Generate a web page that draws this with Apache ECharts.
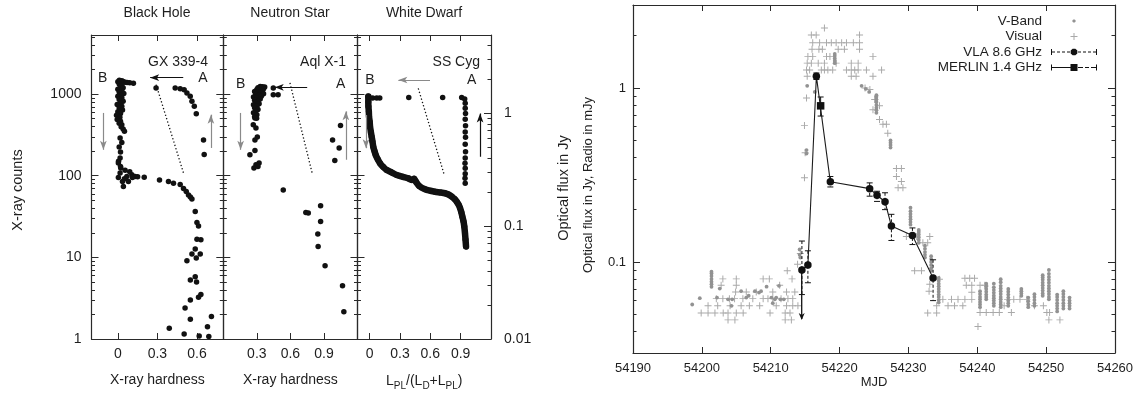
<!DOCTYPE html>
<html><head><meta charset="utf-8">
<script src="https://cdn.jsdelivr.net/npm/echarts@6/dist/echarts.min.js"></script>
<style>html,body{margin:0;padding:0;background:#fff}#c{width:1148px;height:396px}</style>
</head><body><div id="c"></div>
<script>
// ---------------- DATA ----------------
// Left figure: hardness–intensity diagrams
const panelTitles = ['Black Hole', 'Neutron Star', 'White Dwarf'];
const sourceNames = ['GX 339-4', 'Aql X-1', 'SS Cyg'];
const bhTicks = [0, 0.3, 0.6];
const nsTicks = [0.3, 0.6, 0.9];
const wdTicks = [0, 0.3, 0.6, 0.9];

// GX 339-4: [hardness, X-ray counts]
const gx339 = [
 [0.29,1190],[0.435,1190],[0.473,1160],[0.503,1135],[0.524,1035],[0.549,940],[0.562,816],[0.58,708],[0.595,576],[0.65,275],[0.655,182],
 [0.118,1355],[0.09,1380],[0.055,1400],[0.03,1460],[0.011,1477],[0.0,1420],[0.04,1430],[0.02,1440],[0.07,1390],
 [0.01,1330],[0.03,1300],[0.02,1250],[0.04,1200],[0.0,1150],[0.03,1100],[0.01,1060],[0.045,1020],[0.02,980],[0.0,940],[0.03,900],[0.01,860],[0.04,820],[0.02,780],[-0.005,745],[0.03,710],[0.01,675],[0.035,640],[0.0,610],[0.02,580],[-0.01,550],[0.015,520],[-0.005,490],[0.02,465],[0.01,440],[0.03,420],[0.025,398],[0.04,375],[0.05,350],
 [0.017,290],[0.03,255],[0.01,225],[0.02,195],[0.017,165],[0.005,150],
 [0.004,143],[0.022,124],[0.017,108],[0.055,117],[0.068,98],[0.106,103],[0.13,98],[0.08,85],[0.042,74],[0.035,85],[0.004,95],[0.09,112],[0.02,130],[0.05,92],[0.11,95],[0.15,97],
 [0.20,96],[0.316,89],[0.384,85],[0.422,81],[0.473,78],[0.498,70],[0.519,64],[0.536,58],[0.55,55],[0.562,52],
 [0.587,36.5],[0.60,26.7],[0.612,24.3],[0.60,16.7],[0.63,16.4],[0.587,12.7],[0.562,11],[0.625,11],[0.595,9.8],[0.524,9.1],[0.587,5.8],[0.55,5.3],[0.597,5.0],[0.63,3.5],[0.612,3.25],[0.55,3.0],[0.51,2.4],[0.55,1.75],[0.71,1.88],[0.39,1.35],[0.503,1.15],[0.617,1.09],[0.68,1.41],[0.69,1.07]
];
// Aql X-1: [hardness, X-ray counts]
const aqlX1 = [
 [0.33,1240],[0.35,1230],[0.37,1220],[0.31,1200],[0.34,1180],[0.36,1160],[0.30,1140],[0.32,1120],[0.35,1100],[0.28,1080],[0.31,1060],[0.33,1030],[0.36,1010],[0.29,990],[0.32,970],[0.34,940],[0.27,920],[0.30,900],[0.33,870],[0.28,840],[0.31,820],[0.29,790],[0.32,760],[0.27,740],[0.30,710],[0.28,680],[0.31,650],[0.29,620],[0.27,590],[0.30,560],[0.28,530],
 [0.447,1190],[0.447,985],[0.49,985],
 [0.283,510],[0.298,505],[0.268,422],[0.292,385],[0.304,298],[0.283,274],[0.283,204],[0.238,181],[0.32,143],[0.292,136],[0.274,124],[0.31,130],
 [1.048,414],[0.977,275],[1.036,219],[0.997,154],
 [0.536,67],[0.738,35.5],[0.76,35],[0.87,43],[0.87,27.5],[0.845,19.3],[0.848,13.6],[0.91,7.9],[1.066,4.5],[1.078,2.16]
];
// SS Cyg: [L_PL/(L_D+L_PL), flux (right axis)]
const ssCygPoints = [
 [-0.013,1.39],[0.03,1.36],[0.07,1.36],[0.10,1.36],[0.387,1.37],[0.722,1.37],[0.91,1.37],
 [0.94,1.33],[0.945,1.22],[0.945,1.10],[0.948,0.99],[0.945,0.88],[0.948,0.77],[0.945,0.68],[0.948,0.61],[0.945,0.53],[0.948,0.455],[0.945,0.40],[0.943,0.36],[0.945,0.324],[0.945,0.29],[0.943,0.264],[0.945,0.239]
];
const ssCygTrack = [
 [-0.013,1.40],[-0.013,1.25],[-0.012,1.14],[-0.008,1.03],[-0.006,0.93],[0.0,0.84],[0.004,0.757],[0.012,0.68],[0.02,0.617],[0.028,0.56],[0.036,0.503],[0.048,0.46],[0.06,0.425],[0.08,0.39],[0.103,0.359],[0.135,0.333],[0.169,0.313],[0.22,0.297],[0.268,0.283],[0.33,0.272],[0.382,0.264],[0.42,0.255],[0.44,0.262],[0.46,0.245],[0.49,0.226],[0.548,0.211],[0.60,0.205],[0.647,0.201],[0.70,0.198],[0.745,0.195],[0.78,0.19],[0.812,0.182],[0.84,0.173],[0.861,0.164],[0.88,0.154],[0.894,0.144],[0.907,0.132],[0.917,0.121],[0.928,0.11],[0.936,0.099],[0.943,0.086],[0.948,0.076],[0.953,0.066]
];
// annotation lines (data coordinates)
const bhArrowH = [[0.496,1590],[0.245,1590]];
const bhArrowDown = [[-0.11,588],[-0.11,208]];
const bhArrowUp = [[0.706,219],[0.706,560]];
const bhDotted = [[0.29,1308],[0.498,108]];
const nsArrowH = [[0.75,1212],[0.46,1212]];
const nsArrowDown = [[0.155,588],[0.155,208]];
const nsArrowUp = [[1.096,157],[1.096,615]];
const nsDotted = [[0.596,1372],[0.798,103]];
const wdArrowH = [[0.597,1.96],[0.284,1.96]];
const wdArrowDown = [[-0.036,0.96],[-0.036,0.488]];
const wdArrowUp = [[1.092,0.41],[1.092,0.99]];
const wdDotted = [[0.481,1.65],[0.738,0.283]];

// Right figure: light curve
const mjdTicks = [54190, 54260];
const vband = [
 [54198.6,0.057],[54199.7,0.062],[54201.4,0.072],[54201.4,0.0745],[54201.4,0.077],[54201.4,0.08],[54201.4,0.083],[54201.4,0.086],[54201.4,0.088],
 [54202.6,0.0704],[54202.2,0.0625],[54203.8,0.061],[54204.3,0.056],[54204.4,0.061],[54205.7,0.068],[54206.45,0.0625],[54206.8,0.064],[54207.7,0.068],[54208.3,0.0667],[54208.6,0.068],[54209.4,0.0722],[54210.1,0.0625],[54210.6,0.061],[54210.8,0.0625],[54211.2,0.073],[54210.3,0.058],[54211.4,0.061],[54211.9,0.061],
 [54214.2,0.118],[54214.2,0.11],[54214.3,0.106],[54215.2,0.44],[54215.2,0.42],[54215.3,1.03],[54216.4,0.95],
 [54219.3,1.39],[54219.3,1.43],[54219.3,1.48],[54219.3,1.53],[54219.3,1.57],
 [54223.2,1.03],[54223.8,0.99],[54224.3,0.95],
 [54225.35,0.72],[54225.35,0.745],[54225.35,0.77],[54225.35,0.80],[54225.35,0.83],[54225.35,0.86],[54225.35,0.89],[54225.35,0.91],
 [54227.4,0.455],[54227.4,0.47],[54227.4,0.485],[54227.4,0.50],
 [54230.3,0.164],[54230.3,0.17],[54230.3,0.176],[54230.3,0.182],[54230.3,0.189],[54230.3,0.196],[54230.3,0.205],
 [54231.5,0.129],[54231.5,0.134],[54231.5,0.139],[54231.5,0.144],[54231.5,0.149],[54231.5,0.153],
 [54232.4,0.106],[54232.4,0.11],[54232.4,0.114],[54232.4,0.119],[54232.4,0.124],
 [54233.3,0.089],[54233.3,0.092],[54233.3,0.096],[54233.3,0.1],[54233.3,0.104],[54233.3,0.108],
 [54234.4,0.0585],[54234.4,0.0605],[54234.4,0.063],[54234.4,0.065],[54234.4,0.0675],[54234.4,0.07],[54234.4,0.0725],[54234.4,0.075],[54234.4,0.078],[54234.4,0.081],
 [54240.4,0.055],[54240.4,0.057],[54240.4,0.059],[54240.4,0.061],[54240.4,0.063],[54240.4,0.0655],[54240.4,0.068],
 [54241.3,0.061],[54241.3,0.063],[54241.3,0.065],[54241.3,0.0675],[54241.3,0.07],[54241.3,0.0725],[54241.3,0.075],
 [54242.4,0.056],[54242.4,0.058],[54242.4,0.06],[54242.4,0.062],[54242.4,0.064],[54242.4,0.0665],[54242.4,0.069],[54242.4,0.0715],[54242.4,0.075],
 [54243.4,0.055],[54243.4,0.057],[54243.4,0.059],[54243.4,0.061],[54243.4,0.063],[54243.4,0.0655],[54243.4,0.068],[54243.4,0.0705],[54243.4,0.073],[54243.4,0.0765],[54243.4,0.0796],
 [54244.5,0.056],[54244.5,0.058],[54244.5,0.06],[54244.5,0.0625],[54244.5,0.065],[54244.5,0.0675],[54244.5,0.07],
 [54246.4,0.064],[54246.4,0.066],[54246.4,0.068],[54246.4,0.07],
 [54247.4,0.055],[54247.4,0.057],[54247.4,0.0595],[54247.4,0.0625],
 [54248.3,0.056],[54248.3,0.058],[54248.3,0.0605],[54248.3,0.063],[54248.3,0.0653],
 [54249.5,0.064],[54249.5,0.066],[54249.5,0.0685],[54249.5,0.071],[54249.5,0.0735],[54249.5,0.076],[54249.5,0.079],[54249.5,0.0815],[54249.5,0.084],
 [54250.4,0.061],[54250.4,0.063],[54250.4,0.0655],[54250.4,0.068],[54250.4,0.0705],[54250.4,0.073],[54250.4,0.076],[54250.4,0.079],[54250.4,0.082],[54250.4,0.0855],[54250.4,0.09],
 [54251.6,0.052],[54251.6,0.054],[54251.6,0.056],[54251.6,0.058],[54251.6,0.0605],[54251.6,0.063],[54251.6,0.065],
 [54252.5,0.054],[54252.5,0.056],[54252.5,0.058],[54252.5,0.0605],[54252.5,0.063],[54252.5,0.0655],[54252.5,0.068],
 [54253.4,0.054],[54253.4,0.056],[54253.4,0.058],[54253.4,0.06],[54253.4,0.0625]
];
const visual = [
 [54199.9,0.051],[54200.9,0.051],[54201.9,0.051],[54203.1,0.051],[54203.8,0.051],[54205.0,0.051],[54206.0,0.051],[54209.9,0.051],[54212.1,0.051],[54212.8,0.051],
 [54203.8,0.0465],[54204.8,0.0465],[54212.1,0.0465],[54213.0,0.0465],
 [54200.9,0.056],[54202.3,0.056],[54204.1,0.056],[54205.7,0.056],[54206.9,0.056],[54208.4,0.056],[54210.8,0.056],[54212.3,0.056],[54213.2,0.056],[54213.95,0.056],
 [54202.1,0.0616],[54203.05,0.0616],[54204.0,0.0616],[54204.75,0.0616],[54205.96,0.0616],[54207.4,0.0616],[54208.9,0.0616],[54209.6,0.0616],[54210.3,0.0616],[54211.5,0.0616],[54212.5,0.0616],[54213.2,0.0616],
 [54204.9,0.0673],[54206.45,0.0673],[54207.9,0.0673],[54210.3,0.0673],[54212.3,0.0673],[54213.5,0.0673],
 [54202.8,0.0735],[54205.0,0.0735],[54211.3,0.0735],
 [54203.05,0.080],[54205.0,0.080],[54208.9,0.080],[54209.8,0.080],[54213.1,0.080],
 [54212.4,0.089],[54213.9,0.097],[54214.3,0.112],
 [54214.9,0.305],[54215.0,0.424],[54214.9,0.608],[54215.2,0.877],
 [54217.8,2.21],
 [54215.9,2.02],[54216.6,2.02],[54222.9,2.02],
 [54216.1,1.82],[54217.1,1.82],[54218.1,1.82],[54218.8,1.82],[54219.5,1.82],[54220.3,1.82],[54221.0,1.82],[54222.0,1.82],[54222.9,1.82],
 [54216.0,1.67],[54217.0,1.67],[54217.5,1.67],[54219.8,1.67],[54220.7,1.67],[54222.9,1.67],
 [54215.4,1.52],[54216.1,1.52],[54218.1,1.52],[54218.6,1.52],[54224.85,1.52],
 [54215.3,1.39],[54215.9,1.39],[54216.9,1.39],[54217.8,1.39],[54219.5,1.39],[54221.7,1.39],[54222.7,1.39],
 [54215.2,1.27],[54215.65,1.27],[54217.35,1.27],[54217.8,1.27],[54218.3,1.27],[54219.0,1.27],[54221.0,1.27],[54221.7,1.27],[54222.2,1.27],[54222.7,1.27],[54223.9,1.27],[54226.1,1.27],
 [54215.3,1.17],[54221.7,1.17],[54222.4,1.17],[54224.85,1.17],
 [54223.7,1.0],[54224.4,0.98],[54225.1,0.86],[54224.85,0.75],[54225.8,0.79],[54225.8,0.66],[54226.3,0.62],[54226.8,0.62],[54227.0,0.55],
 [54228.26,0.345],[54228.98,0.345],[54228.26,0.31],[54228.98,0.29],[54228.5,0.267],[54229.2,0.267],
 [54229.7,0.14],[54231.2,0.14],[54233.1,0.14],[54232.1,0.129],[54232.8,0.129],[54230.9,0.089],[54231.9,0.089],[54233.1,0.0745],[54233.0,0.068],[54234.1,0.056],[54232.8,0.051],[54234.1,0.051],
 [54234.5,0.0796],[54235.0,0.061],[54236.25,0.061],[54237.2,0.061],[54238.2,0.061],[54239.2,0.061],[54235.75,0.056],[54236.7,0.056],[54237.9,0.056],
 [54238.2,0.0806],[54238.9,0.0806],[54239.6,0.0806],[54238.4,0.0735],[54239.2,0.0735],[54239.2,0.067],[54240.1,0.0426],
 [54240.4,0.0512],[54241.3,0.0512],[54242.3,0.0512],[54243.2,0.0512],[54240.4,0.0735],[54241.1,0.0735],
 [54243.9,0.056],[54244.4,0.061],[54245.3,0.061],[54244.95,0.0512],[54246.2,0.061],[54247.2,0.061],[54248.3,0.056],[54249.6,0.056],[54250.1,0.0512],[54250.5,0.0512],[54250.4,0.0465],[54252.0,0.0465]
];
const vlaMJD  = [54214.53, 54215.40, 54216.63, 54218.66, 54224.37, 54225.44, 54226.60, 54227.53, 54230.58, 54233.58];
const vlaFlux = [0.090, 0.096, 1.17, 0.289, 0.264, 0.242, 0.222, 0.161, 0.142, 0.081];
const vlaLo   = [0.065, 0.076, 1.12, 0.270, 0.239, 0.223, 0.200, 0.133, 0.126, 0.060];
const vlaHi   = [0.132, 0.116, 1.22, 0.310, 0.285, 0.255, 0.250, 0.188, 0.157, 0.103];
const merlinMJD  = [54217.25];
const merlinFlux = [0.79];
const merlinLo   = [0.69];
const merlinHi   = [0.888];
const limitMJD  = [54214.50];
const limitFrom = [0.090];
const limitTo   = [0.047];

// ---------------- STYLE / LAYOUT ----------------
const FONT = "'Liberation Sans', Arial, Helvetica, sans-serif";
const AX = '#2a2a2a', TXT = '#1e1e1e', DOT = '#111111', GRAYA = '#8a8a8a';
const CNT = [1, 5300], WDR = [0.01, 4.9], FLX = [0.03, 3.0];

function decadeFmt(v){ const e = Math.log10(v), r = Math.round(e); if (Math.abs(e - r) > 1e-6) return ''; return String(Number(Math.pow(10, r).toPrecision(1))); }
function minorVals(r){ const out=[]; for(let e=Math.floor(Math.log10(r[0])); e<=Math.ceil(Math.log10(r[1])); e++){ for(let m=2;m<=9;m++){ const v=m*Math.pow(10,e); if(v>r[0]&&v<r[1]) out.push(Math.log10(v)); } } return out; }

const grid = [
 {left:91.5, top:35, width:131.8, height:304},
 {left:223.3, top:35, width:134.2, height:304},
 {left:357.5, top:35, width:133.5, height:304},
 {left:633, top:5, width:482, height:348}
].map(g => Object.assign({containLabel:false, outerBoundsMode:'none'}, g));

const xAxis = [], yAxis = [], series = [];
const lineS = {color:AX, width:1.2};
function addX(o){ xAxis.push(o); return xAxis.length-1; }
function addY(o){ yAxis.push(o); return yAxis.length-1; }
function xVal(gi, pos, rng, ticks, labels, extra){
  return addX(Object.assign({type:'value', gridIndex:gi, position:pos, min:rng[0], max:rng[1],
    axisLine:{show:true, onZero:false, lineStyle:lineS},
    axisTick:{show:true, inside:true, length:6, customValues:ticks, lineStyle:{color:AX, width:1}},
    axisLabel:{show:labels, customValues:ticks, margin:8, color:TXT, fontSize:14, fontFamily:FONT, formatter:v=>String(v)},
    splitLine:{show:false}, nameMoveOverlap:false}, extra||{}));
}
function yLog(gi, pos, rng, labels, extra){
  return addY(Object.assign({type:'log', logBase:10, gridIndex:gi, position:pos, min:rng[0], max:rng[1],
    axisLine:{show:true, onZero:false, lineStyle:lineS},
    axisTick:{show:true, inside:true, length:7, lineStyle:{color:AX, width:1}},
    axisLabel:{show:labels, margin:10, color:TXT, fontSize:14, fontFamily:FONT, formatter:decadeFmt, showMaxLabel:false},
    splitLine:{show:false}, minorTick:{show:false}, nameMoveOverlap:false}, extra||{}));
}
function yMinor(gi, pos, rng, extra){
  return addY(Object.assign({type:'value', gridIndex:gi, position:pos, min:Math.log10(rng[0]), max:Math.log10(rng[1]),
    axisLine:{show:false, onZero:false}, axisLabel:{show:false}, splitLine:{show:false},
    axisTick:{show:true, inside:true, length:3.5, customValues:minorVals(rng), lineStyle:{color:AX, width:1}},
    nameMoveOverlap:false}, extra||{}));
}
const nameStyle = {color:TXT, fontSize:14, fontFamily:FONT};

function annot(items){
  return {silent:true, animation:false, label:{show:false}, emphasis:{disabled:true},
    data: items.map(it => [
      {coord:it.pts[0], symbol:'none', lineStyle:it.style},
      {coord:it.pts[1], symbol:it.arrow?'arrow':'none', symbolSize:it.arrow?[5,9]:1, lineStyle:it.style}
    ])};
}
const sBlack = {color:'#111', width:1.2, type:'solid'};
const sGray = {color:GRAYA, width:1.2, type:'solid'};
const sDot = {color:'#111', width:1.3, type:[1.3,2.2]};
const dotStyle = {color:DOT, opacity:1};

// Panel 0 : Black Hole
const x0 = xVal(0,'bottom',[-0.2,0.8],bhTicks,true,{name:'X-ray hardness', nameLocation:'middle', nameGap:34, nameTextStyle:nameStyle});
xVal(0,'top',[-0.2,0.8],bhTicks,false);
const y0 = yLog(0,'left',CNT,true,{name:'X-ray counts', nameLocation:'middle', nameGap:66, nameRotate:90, nameTextStyle:Object.assign({},nameStyle,{fontSize:14.5, padding:[0,6,0,0]})});
yMinor(0,'left',CNT); yLog(0,'right',CNT,false); yMinor(0,'right',CNT);
series.push({type:'scatter', xAxisIndex:x0, yAxisIndex:y0, data:gx339, symbolSize:5.5, itemStyle:dotStyle, z:3,
  markLine: annot([{pts:bhArrowH, arrow:true, style:sBlack},{pts:bhArrowDown, arrow:true, style:sGray},{pts:bhArrowUp, arrow:true, style:sGray},{pts:bhDotted, arrow:false, style:sDot}])});

// Panel 1 : Neutron Star
const x1 = xVal(1,'bottom',[0,1.2],nsTicks,true,{name:'X-ray hardness', nameLocation:'middle', nameGap:34, nameTextStyle:nameStyle});
xVal(1,'top',[0,1.2],nsTicks,false);
const y1 = yLog(1,'left',CNT,false);
yMinor(1,'left',CNT); yLog(1,'right',CNT,false); yMinor(1,'right',CNT);
series.push({type:'scatter', xAxisIndex:x1, yAxisIndex:y1, data:aqlX1, symbolSize:5.5, itemStyle:dotStyle, z:3,
  markLine: annot([{pts:nsArrowH, arrow:true, style:sBlack},{pts:nsArrowDown, arrow:true, style:sGray},{pts:nsArrowUp, arrow:true, style:sGray},{pts:nsDotted, arrow:false, style:sDot}])});

// Panel 2 : White Dwarf
const x2 = xVal(2,'bottom',[-0.12,1.2],wdTicks,true,{name:'{m|L}{s|PL}{m|/(L}{s|D}{m|+L}{s|PL}{m|)}', nameLocation:'middle', nameGap:32,
  nameTextStyle:{color:TXT, fontFamily:FONT, rich:{m:{fontSize:14, fontFamily:FONT, color:TXT, lineHeight:20, verticalAlign:'middle'}, s:{fontSize:10, fontFamily:FONT, color:TXT, lineHeight:10, verticalAlign:'bottom'}}}});
xVal(2,'top',[-0.12,1.2],wdTicks,false);
yLog(2,'left',CNT,false); yMinor(2,'left',CNT);
const y2 = yLog(2,'right',WDR,true,{axisLabel:{show:true, margin:13, color:TXT, fontSize:14, fontFamily:FONT, formatter:decadeFmt, showMaxLabel:false}});
yMinor(2,'right',WDR);
series.push({type:'line', xAxisIndex:x2, yAxisIndex:y2, data:ssCygTrack, symbol:'none', smooth:0.2, lineStyle:{color:DOT, width:6.5, cap:'round', join:'round'}, z:2});
series.push({type:'scatter', xAxisIndex:x2, yAxisIndex:y2, data:ssCygTrack, symbolSize:6, itemStyle:dotStyle, z:3});
series.push({type:'scatter', xAxisIndex:x2, yAxisIndex:y2, data:ssCygPoints, symbolSize:5.5, itemStyle:dotStyle, z:3,
  markLine: annot([{pts:wdArrowH, arrow:true, style:sGray},{pts:wdArrowDown, arrow:true, style:sGray},{pts:wdArrowUp, arrow:true, style:sBlack},{pts:wdDotted, arrow:false, style:sDot}])});

// Panel 3 : light curve
const lab13 = {color:TXT, fontSize:13, fontFamily:FONT};
const x3 = addX({type:'value', gridIndex:3, position:'bottom', min:mjdTicks[0], max:mjdTicks[1], interval:10,
  axisLine:{show:true, onZero:false, lineStyle:lineS}, axisTick:{show:true, inside:true, length:6, lineStyle:{color:AX}},
  axisLabel:Object.assign({margin:9, formatter:v=>String(v)}, lab13), splitLine:{show:false},
  name:'MJD', nameLocation:'middle', nameGap:23, nameTextStyle:lab13, nameMoveOverlap:false});
addX({type:'value', gridIndex:3, position:'top', min:mjdTicks[0], max:mjdTicks[1], interval:10,
  axisLine:{show:true, onZero:false, lineStyle:lineS}, axisTick:{show:true, inside:true, length:6, lineStyle:{color:AX}},
  axisLabel:{show:false}, splitLine:{show:false}});
const y3 = yLog(3,'left',FLX,true,{axisLabel:Object.assign({show:true, margin:7, formatter:decadeFmt, showMaxLabel:false, showMinLabel:false}, lab13),
  name:'Optical flux in Jy, Radio in mJy', nameLocation:'middle', nameGap:38, nameRotate:90, nameTextStyle:Object.assign({}, lab13, {padding:[0,12,0,0]})});
yMinor(3,'left',FLX,{name:'Optical flux in Jy', nameLocation:'middle', nameGap:62, nameRotate:90, nameTextStyle:Object.assign({},nameStyle,{fontSize:14.5, padding:[0,18,0,0]})});
yLog(3,'right',FLX,false); yMinor(3,'right',FLX);

const plusSym = 'path://M4.3,0 L5.7,0 L5.7,4.3 L10,4.3 L10,5.7 L5.7,5.7 L5.7,10 L4.3,10 L4.3,5.7 L0,5.7 L0,4.3 L4.3,4.3 Z';
series.push({name:'Visual', type:'scatter', xAxisIndex:x3, yAxisIndex:y3, data:visual, symbol:plusSym, symbolSize:7, itemStyle:{color:'#a9a9a9', opacity:1}, z:1});
series.push({name:'V-Band', type:'scatter', xAxisIndex:x3, yAxisIndex:y3, data:vband, symbol:'circle', symbolSize:3.8, itemStyle:{color:'#929292', opacity:1}, z:1});

function errRender(dash){
  return function(params, api){
    const x = api.value(0), lo = api.value(1), hi = api.value(2);
    const a = api.coord([x, hi]), b = api.coord([x, lo]); const w = 3;
    const st = {stroke:'#111', lineWidth:1};
    return {type:'group', children:[
      {type:'line', shape:{x1:a[0], y1:a[1], x2:b[0], y2:b[1]}, style:Object.assign({lineDash:dash}, st)},
      {type:'line', shape:{x1:a[0]-w, y1:a[1], x2:a[0]+w, y2:a[1]}, style:st},
      {type:'line', shape:{x1:b[0]-w, y1:b[1], x2:b[0]+w, y2:b[1]}, style:st}
    ]};
  };
}
series.push({type:'custom', xAxisIndex:x3, yAxisIndex:y3, z:4, silent:true, renderItem:errRender([3,2]),
  data: vlaMJD.map((m,i)=>[m, vlaLo[i], vlaHi[i]]), encode:{x:0, y:[1,2]}});
series.push({type:'custom', xAxisIndex:x3, yAxisIndex:y3, z:4, silent:true, renderItem:errRender(null),
  data: merlinMJD.map((m,i)=>[m, merlinLo[i], merlinHi[i]]), encode:{x:0, y:[1,2]}});
series.push({type:'custom', xAxisIndex:x3, yAxisIndex:y3, z:4, silent:true,
  renderItem: function(params, api){
    const a = api.coord([api.value(0), api.value(1)]), b = api.coord([api.value(0), api.value(2)]);
    return {type:'group', children:[
      {type:'line', shape:{x1:a[0], y1:a[1], x2:b[0], y2:b[1]}, style:{stroke:'#111', lineWidth:1.3}},
      {type:'polygon', shape:{points:[[b[0], b[1]+1],[b[0]-3, b[1]-6],[b[0], b[1]-4],[b[0]+3, b[1]-6]]}, style:{fill:'#111'}}
    ]};
  },
  data: limitMJD.map((m,i)=>[m, limitFrom[i], limitTo[i]]), encode:{x:0, y:[1,2]}});
series.push({name:'VLA 8.6 GHz', type:'line', xAxisIndex:x3, yAxisIndex:y3, data: vlaMJD.map((m,i)=>[m, vlaFlux[i]]),
  symbol:'circle', symbolSize:7.5, showAllSymbol:true, itemStyle:{color:DOT, borderWidth:0, opacity:1}, lineStyle:{color:'#1c1c1c', width:1.1}, z:5});
series.push({name:'MERLIN 1.4 GHz', type:'line', xAxisIndex:x3, yAxisIndex:y3, data: merlinMJD.map((m,i)=>[m, merlinFlux[i]]),
  symbol:'rect', symbolSize:7.5, itemStyle:{color:DOT, borderWidth:0, opacity:1}, lineStyle:{color:'#1c1c1c', width:1.1}, z:5});

// legend icons (50 x 14 boxes)
function rp(rs){ return rs.map(([x,y,w,h]) => `M${x},${y} L${x+w},${y} L${x+w},${y+h} L${x},${y+h} Z`).join(' '); }
function oct(cx,cy,r){ const a=r*0.924, b=r*0.383; return `M${cx+a},${cy-b} L${cx+a},${cy+b} L${cx+b},${cy+a} L${cx-b},${cy+a} L${cx-a},${cy+b} L${cx-a},${cy-b} L${cx-b},${cy-a} L${cx+b},${cy-a} Z`; }
const BOX = 'M0,0 M50,14 ';
const iconV = 'path://' + BOX + oct(27,7,1.7);
const iconP = 'path://' + BOX + rp([[23.5,6.5,7,1],[26.5,3.5,1,7]]);
const iconVLA = 'path://' + BOX + rp([[4,4,1,6],[49,4,1,6],[5,6.5,3,1],[10,6.5,3,1],[15,6.5,3,1],[20,6.5,3,1],[31,6.5,3,1],[36,6.5,3,1],[41,6.5,3,1],[46,6.5,3,1]]) + ' ' + oct(27,7,3.6);
const iconM = 'path://' + BOX + rp([[4,4,1,6],[49,4,1,6],[5,6.5,19,1],[23.5,3.5,7,7],[31,6.5,5,1],[38,6.5,4,1],[44,6.5,5,1]]);

const T = (text, x, y, align, size) => ({type:'text', x:x, y:y, silent:true,
  style:{text:text, x:0, y:0, fill:TXT, fontSize:size||14, fontFamily:FONT, align:align, textAlign:align, verticalAlign:'middle', textVerticalAlign:'middle'}});

const option = {
  animation:false,
  backgroundColor:'#ffffff',
  textStyle:{fontFamily:FONT},
  grid: grid, xAxis: xAxis, yAxis: yAxis, series: series,
  legend:{orient:'vertical', right:51, top:14, align:'right', itemWidth:50, itemHeight:14, itemGap:1.5, padding:0, selectedMode:false,
    textStyle:{fontSize:13.5, color:TXT, fontFamily:FONT}, itemStyle:{borderWidth:0, opacity:1},
    data:[{name:'V-Band', icon:iconV},{name:'Visual', icon:iconP},{name:'VLA 8.6 GHz', icon:iconVLA},{name:'MERLIN 1.4 GHz', icon:iconM}]},
  graphic:[
    T(panelTitles[0], 157, 13, 'center'), T(panelTitles[1], 290, 13, 'center'), T(panelTitles[2], 424, 13, 'center'),
    T(sourceNames[0], 208, 62, 'right'), T(sourceNames[1], 346, 62, 'right'), T(sourceNames[2], 480, 62, 'right'),
    T('B', 102.7, 78.3, 'center'), T('A', 203, 78.3, 'center'),
    T('B', 240.7, 84, 'center'), T('A', 340.7, 84, 'center'),
    T('B', 370, 80, 'center'), T('A', 471.7, 80, 'center')
  ]
};
const chart = echarts.init(document.getElementById('c'), null, {renderer:'canvas', width:1148, height:396});
chart.setOption(option);
</script></body></html>
